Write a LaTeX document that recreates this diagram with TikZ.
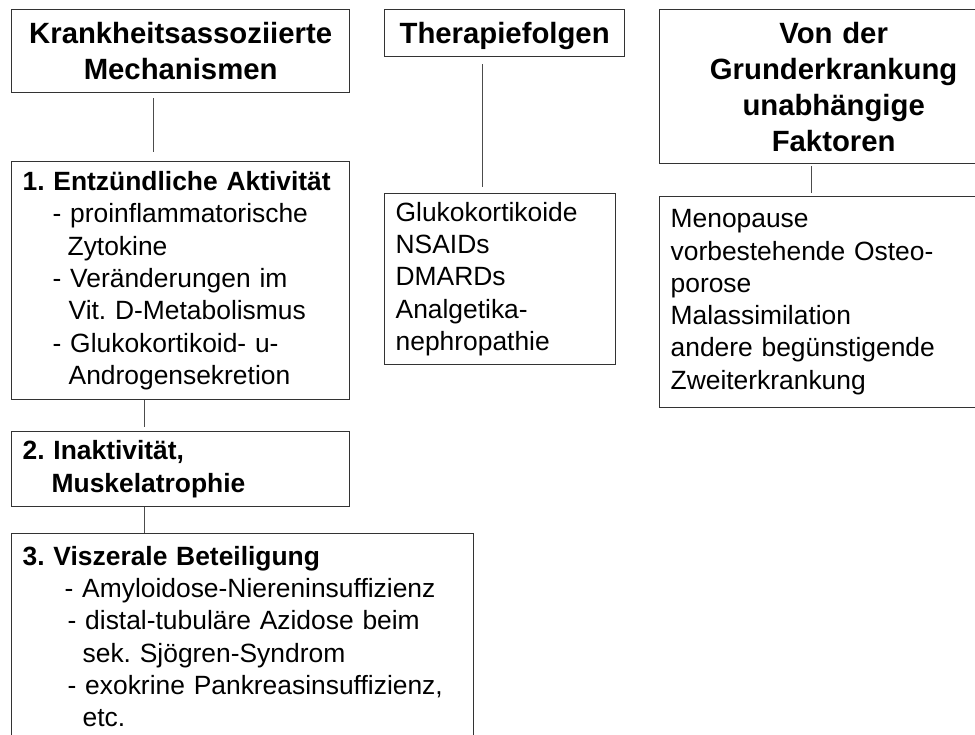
\documentclass[tikz,border=0pt]{standalone}
\usepackage{fontspec}
\setmainfont{Liberation Sans}
\usepackage{tikz}
\frenchspacing
\newcommand{\bodysize}{\fontsize{26.4}{32.3}\selectfont}
\newcommand{\titlesize}{\fontsize{29.3}{36}\selectfont\bfseries}
\newcommand{\ind}[1]{\hspace*{#1pt}}
\tikzset{
    box/.style={draw=black!80, line width=1.3pt, anchor=north west,
        inner xsep=11pt, inner ysep=0pt, align=left, font=\bodysize},
    titlebox/.style={box, align=center, font=\titlesize},
    link/.style={draw=black!70, line width=1pt}
}

\begin{document}
\begin{tikzpicture}[x=1pt,y=-1pt]
    \useasboundingbox (0,0) rectangle (975,735);
    \clip (0,0) rectangle (975,735);
    % headings
    \node[titlebox, text width=316pt, minimum height=83pt] at (11,9) (kmech) {Krankheitsassoziierte\\Mechanismen};
    \node[titlebox, text width=218pt, minimum height=47pt, text depth=0pt] at (384,9) (therapie) {Therapiefolgen};
    \node[titlebox, text width=326pt, minimum height=154pt] at (659,9) (unabh) {Von der\\Grunderkrankung\\unabhängige\\Faktoren};
    % contents
    \node[box, text width=316pt, minimum height=238pt] at (11,161) (entz) {\textbf{1. Entzündliche Aktivität}\\
        \ind{30}- proinflammatorische\\
        \ind{45}Zytokine\\
        \ind{30}- Veränderungen im\\
        \ind{46}Vit. D-Metabolismus\\
        \ind{30}- Glukokortikoid- u-\\
        \ind{46}Androgensekretion};
    \node[box, text width=316pt, minimum height=75pt] at (11,431) (inakt) {\textbf{2. Inaktivität,}\\
        \ind{29}\textbf{Muskelatrophie}};
    \node[box, text width=440pt, minimum height=206pt] at (11,533) (visz) {\textbf{3. Viszerale Beteiligung}\\
        \ind{42}- Amyloidose-Niereninsuffizienz\\
        \ind{45}- distal-tubuläre Azidose beim\\
        \ind{60}sek. Sjögren-Syndrom\\
        \ind{45}- exokrine Pankreasinsuffizienz,\\
        \ind{60}etc.};
    \node[box, text width=209pt, minimum height=171pt] at (384,193) (medik) {Glukokortikoide\\NSAIDs\\DMARDs\\Analgetika-\\nephropathie};
    \node[box, text width=326pt, minimum height=211pt] at (659,196) (fakt) {Menopause\\vorbestehende Osteo-\\porose\\Malassimilation\\andere begünstigende\\Zweiterkrankung};
    % lines
    \draw[link] ([xshift=-27pt,yshift=-5pt]kmech.south) -- ([xshift=-27pt,yshift=9pt]entz.north);
    \draw[link] ([xshift=-22pt,yshift=-7pt]therapie.south) -- ([xshift=-17.5pt,yshift=6pt]medik.north);
    \draw[link] ([xshift=-22pt,yshift=-2pt]unabh.south) -- ([xshift=-22pt,yshift=3pt]fakt.north);
    \draw[link] ([xshift=-36pt]entz.south) -- ([xshift=-36pt,yshift=4pt]inakt.north);
    \draw[link] ([xshift=-36pt]inakt.south) -- ([xshift=-98pt]visz.north);
\end{tikzpicture}
\end{document}
